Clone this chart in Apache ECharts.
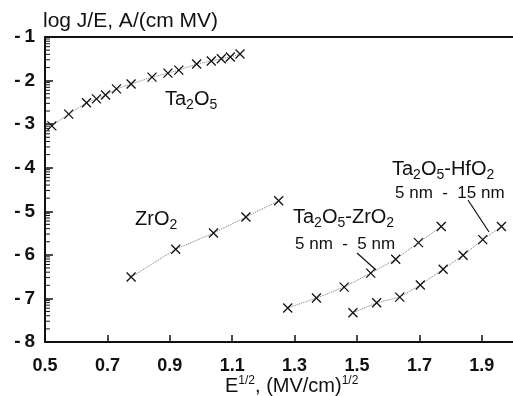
<!DOCTYPE html>
<html>
<head>
<meta charset="utf-8">
<script src="https://cdn.jsdelivr.net/npm/echarts@6/dist/echarts.min.js"></script>
<style>
  html, body { margin: 0; padding: 0; background: #fff; }
  #chart { width: 513px; height: 396px; }
</style>
</head>
<body>
<div id="chart"></div>
<script>
// sqrt(E) values and log J/E values
const ta2o5X = [0.522, 0.576, 0.633, 0.665, 0.694, 0.729, 0.776, 0.843, 0.894, 0.929, 0.986, 1.033, 1.065, 1.094, 1.125];
const ta2o5Y = [-3.04, -2.77, -2.51, -2.42, -2.33, -2.19, -2.08, -1.92, -1.83, -1.76, -1.62, -1.55, -1.50, -1.46, -1.39];

const zro2X = [0.776, 0.919, 1.040, 1.144, 1.249];
const zro2Y = [-6.51, -5.87, -5.50, -5.13, -4.76];

const taZrX = [1.278, 1.370, 1.459, 1.544, 1.624, 1.697, 1.770];
const taZrY = [-7.22, -6.99, -6.74, -6.42, -6.10, -5.72, -5.35];

const taHfX = [1.487, 1.563, 1.637, 1.703, 1.776, 1.840, 1.903, 1.963];
const taHfY = [-7.33, -7.10, -6.97, -6.69, -6.33, -6.01, -5.65, -5.35];

const xTicks = [0.5, 0.7, 0.9, 1.1, 1.3, 1.5, 1.7, 1.9];
const yTicks = [-8, -7, -6, -5, -4, -3, -2, -1];

const font = "Liberation Sans, Arial, sans-serif";
const ink = "#111";

// log-style minor ticks inside each decade of the y axis (log10 of 2..9)
const minorTicks = [];
for (let n = -8; n < -1; n++) {
  for (let k = 2; k <= 9; k++) minorTicks.push([0.5, n + Math.log10(k)]);
}

function pairs(xs, ys) {
  return xs.map((x, i) => [x, ys[i]]);
}

function makeSeries(name, xs, ys) {
  return {
    name: name,
    type: "line",
    data: pairs(xs, ys),
    symbol: "path://M0,0L10,10M10,0L0,10",
    symbolSize: 9,
    itemStyle: { color: "none", borderColor: ink, borderWidth: 1.3 },
    lineStyle: { color: "#777", width: 1, type: "dotted" },
    emphasis: { disabled: true },
    z: 3,
  };
}

// subscript / superscript styles for the labels
const rich = {
  n: { fontSize: 20, fontFamily: font, color: ink, verticalAlign: "bottom", padding: [0, 0, 3, 0] },
  s: { fontSize: 14, fontFamily: font, color: ink, verticalAlign: "bottom" },
  m: { fontSize: 20, fontFamily: font, color: ink, verticalAlign: "bottom" },
  p: { fontSize: 12, fontFamily: font, color: ink, verticalAlign: "bottom", padding: [0, 0, 9, 0] },
};

function label(x, y, text, size) {
  return {
    type: "text",
    left: x,
    top: y,
    style: {
      text: text,
      fontSize: size || 20,
      fontFamily: font,
      fill: ink,
      rich: rich,
    },
    z: 10,
  };
}

const chart = echarts.init(document.getElementById("chart"));
chart.setOption({
  backgroundColor: "#fff",
  animation: false,
  grid: { left: 45, top: 37, width: 472, height: 305 },
  xAxis: [
    {
      type: "value",
      min: 0.5,
      max: 2.0,
      interval: 0.2,
      axisLine: { lineStyle: { color: ink, width: 2 } },
      axisTick: { inside: true, length: 7, lineStyle: { color: ink, width: 1.5 } },
      splitLine: { show: false },
      axisLabel: {
        showMaxLabel: false,
        margin: 15,
        fontSize: 18,
        fontWeight: "bold",
        fontFamily: font,
        color: ink,
        formatter: (v) => (xTicks.some((t) => Math.abs(t - v) < 1e-6) ? v.toFixed(1) : ""),
      },
    },
    {
      type: "value",
      position: "top",
      min: 0.5,
      max: 2.0,
      axisLine: { lineStyle: { color: ink, width: 2 } },
      axisTick: { show: false },
      axisLabel: { show: false },
      splitLine: { show: false },
    },
  ],
  yAxis: {
    type: "value",
    min: -8,
    max: -1,
    interval: 1,
    axisLine: { lineStyle: { color: ink, width: 2 } },
    axisTick: { inside: true, length: 8, lineStyle: { color: ink, width: 1.5 } },
    splitLine: { show: false },
    axisLabel: {
      margin: 10,
      fontSize: 19,
      fontWeight: "bold",
      fontFamily: font,
      color: ink,
      formatter: (v) => (yTicks.includes(v) ? "-\u2009" + Math.abs(v) : ""),
    },
  },
  series: [
    makeSeries("Ta2O5", ta2o5X, ta2o5Y),
    makeSeries("ZrO2", zro2X, zro2Y),
    makeSeries("Ta2O5-ZrO2", taZrX, taZrY),
    makeSeries("Ta2O5-HfO2", taHfX, taHfY),
    {
      type: "custom",
      silent: true,
      clip: false,
      data: minorTicks,
      renderItem: (params, api) => {
        const p = api.coord([api.value(0), api.value(1)]);
        return {
          type: "line",
          shape: { x1: p[0], y1: p[1], x2: p[0] + 5, y2: p[1] },
          style: { stroke: ink, lineWidth: 1 },
        };
      },
    },
  ],
  graphic: [
    label(43, 11, "log J/E, A/(cm MV)", 21),
    label(165, 89, "{n|Ta}{s|2}{n|O}{s|5}"),
    label(135, 209, "{n|ZrO}{s|2}"),
    label(293, 207, "{n|Ta}{s|2}{n|O}{s|5}{n|-ZrO}{s|2}"),
    label(295, 236, "5 nm  -  5 nm", 17),
    label(392, 159, "{n|Ta}{s|2}{n|O}{s|5}{n|-HfO}{s|2}"),
    label(395, 185, "5 nm  -  15 nm", 17),
    label(225, 375, "{m|E}{p|1/2}{m|, (MV/cm)}{p|1/2}"),
    {
      type: "line",
      shape: { x1: 357, y1: 253, x2: 376, y2: 270 },
      style: { stroke: ink, lineWidth: 1.2 },
    },
    {
      type: "line",
      shape: { x1: 468, y1: 200, x2: 489, y2: 232 },
      style: { stroke: ink, lineWidth: 1.2 },
    },
  ],
});
</script>
</body>
</html>
